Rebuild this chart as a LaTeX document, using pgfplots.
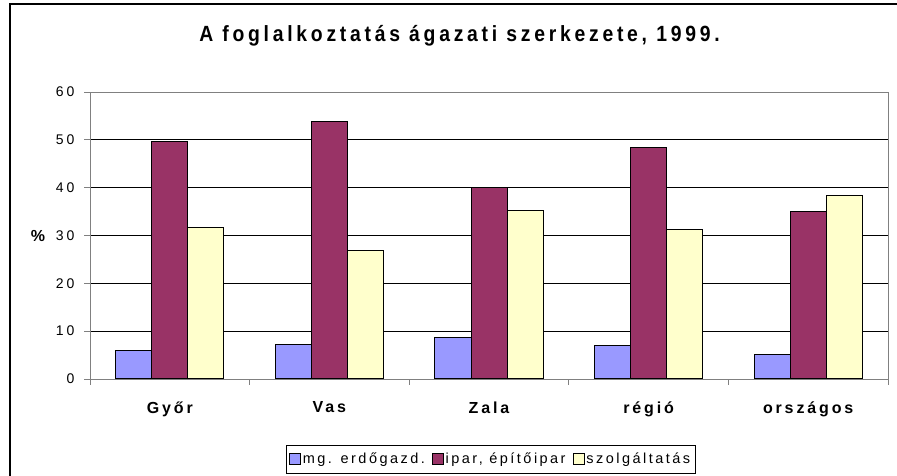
\documentclass[border=0pt]{standalone}
\usepackage{pgfplots}
\pgfplotsset{compat=1.18}
\usepackage{fontspec}
\setmainfont{Liberation Sans}
\newfontfamily\ttl[FakeStretch=0.88,LetterSpace=17]{Liberation Sans}
\newfontfamily\spc[LetterSpace=22]{Liberation Sans}
\newfontfamily\lgd[LetterSpace=17]{Liberation Sans}
\newfontfamily\lsp[LetterSpace=18]{Liberation Sans}
\definecolor{cb}{HTML}{9999FF}
\definecolor{cr}{HTML}{993366}
\definecolor{cy}{HTML}{FFFFCC}
\definecolor{gr}{HTML}{808080}
\begin{document}
\begin{tikzpicture}[x=1pt,y=1pt]
\useasboundingbox (0,0) rectangle (897,476);
\draw[black, line width=1.2pt] (10,-10) -- (10,472) -- (910,472);
\node[font=\ttl\bfseries\fontsize{22}{26}\selectfont] at (459.5,440) {A foglalkoztatás ágazati szerkezete, 1999.};
\node[font=\bfseries\fontsize{16}{18}\selectfont] at (38,240) {\%};
\begin{axis}[at={(90pt,97pt)}, anchor=origin, scale only axis,
  width=798pt, height=287pt,
  ymin=0, ymax=60, ytick={0,10,...,60},
  xmin=0, xmax=5,
  xtick={0,1,...,5}, x tick label as interval,
  xticklabels={Győr,Vas,Zala,régió,országos},
  xtick pos=bottom, ytick pos=left,
  ybar=0pt, bar width=0.2256,
  tick align=outside, major tick length=6pt,
  tick style={gr, line width=0.8pt},
  axis line style={gr, line width=0.8pt},
  ymajorgrids, grid style={black, line width=0.8pt},
  /pgf/number format/assume math mode=true,
  yticklabel style={font=\spc\fontsize{14}{16}\selectfont, xshift=-6pt},
  xticklabel style={font=\lsp\bfseries\fontsize{16}{18}\selectfont, yshift=-13pt},
  legend style={at={(0.502,-0.279)}, anchor=center, legend columns=3,
    draw=black, line width=0.8pt, font=\lgd\fontsize{14.5}{17}\selectfont,
    inner xsep=3pt, inner ysep=6pt,
    /tikz/every even column/.append style={column sep=5pt}},
  legend image code/.code={\draw[#1, draw=black, line width=0.8pt] (0pt,-5pt) rectangle (11pt,6pt);},
  legend cell align=left,
]
\addplot[fill=cb, draw=black, line width=1pt] coordinates {(0.5,5.9) (1.5,7.2) (2.5,8.6) (3.5,6.9) (4.5,5.2)};
\addplot[fill=cr, draw=black, line width=1pt] coordinates {(0.5,49.6) (1.5,53.8) (2.5,40.0) (3.5,48.3) (4.5,35.1)};
\addplot[fill=cy, draw=black, line width=1pt] coordinates {(0.5,31.7) (1.5,26.9) (2.5,35.2) (3.5,31.3) (4.5,38.3)};
\legend{mg. erdőgazd.,{ipar, építőipar},szolgáltatás}
\end{axis}
\end{tikzpicture}
\end{document}
